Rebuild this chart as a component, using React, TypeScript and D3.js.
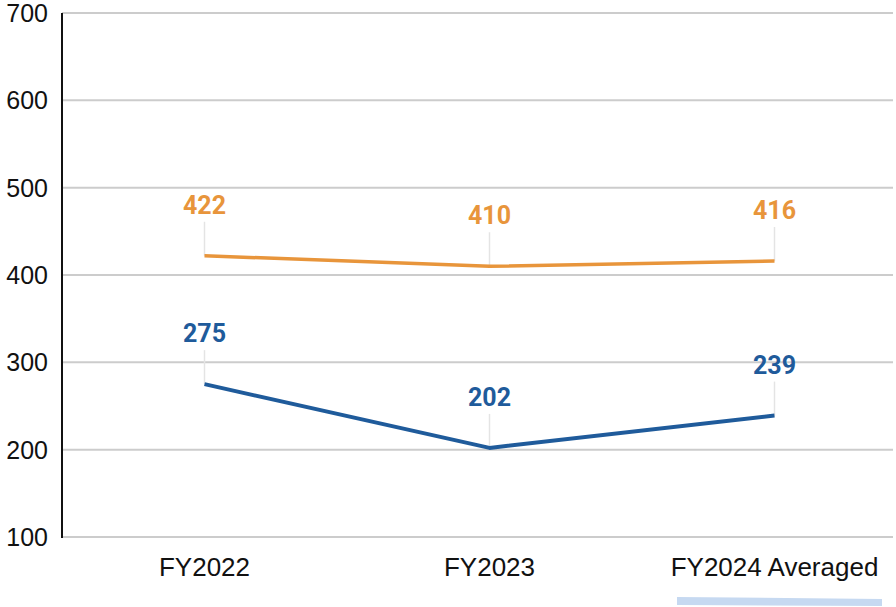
import React from "react";
import * as d3 from "d3";

const categories = ["FY2022", "FY2023", "FY2024 Averaged"];
const seriesOrange = [422, 410, 416];
const seriesBlue = [275, 202, 239];
const yTicks = [100, 200, 300, 400, 500, 600, 700];

const W = 896;
const H = 607;
const left = 62;
const top = 13;
const bottom = 537;
const gridRight = 893;

export default function App() {
  const x = d3.scalePoint<string>().domain(categories).range([left, left + 3 * 285]).padding(0.5);
  const y = d3.scaleLinear().domain([100, 700]).range([bottom, top]);

  const line = d3
    .line<number>()
    .x((_, i) => x(categories[i]) as number)
    .y((d) => y(d));

  const series = [
    { values: seriesOrange, color: "#E8953B", width: 3.5 },
    { values: seriesBlue, color: "#1F5B9B", width: 4 },
  ];

  return (
    <svg
      width={W}
      height={H}
      style={{ position: "absolute", left: 0, top: 0, background: "#fff" }}
    >
      {yTicks.map((t) => (
        <g key={t}>
          <line x1={left} x2={gridRight} y1={y(t)} y2={y(t)} stroke="#cccccc" strokeWidth={2} />
          <text
            x={48}
            y={y(t)}
            textAnchor="end"
            dominantBaseline="central"
            fontFamily="Liberation Sans, Arial, sans-serif"
            fontSize={25}
            fill="#111"
          >
            {t}
          </text>
        </g>
      ))}
      <line x1={left} x2={left} y1={top} y2={bottom + 1} stroke="#111" strokeWidth={2} />
      {categories.map((c) => (
        <text
          key={c}
          x={x(c)}
          y={567}
          textAnchor="middle"
          dominantBaseline="central"
          fontFamily="Liberation Sans, Arial, sans-serif"
          fontSize={26}
          fill="#111"
        >
          {c}
        </text>
      ))}
      {series.map((s, si) => (
        <g key={si}>
          {s.values.map((v, i) => (
            <line
              key={i}
              x1={x(categories[i])}
              x2={x(categories[i])}
              y1={y(v) - 34}
              y2={y(v)}
              stroke="#e4e4e4"
              strokeWidth={1.5}
            />
          ))}
          <path d={line(s.values) || ""} fill="none" stroke={s.color} strokeWidth={s.width} strokeLinejoin="round" />
          {s.values.map((v, i) => (
            <text
              key={i}
              x={x(categories[i])}
              y={y(v) - 42}
              textAnchor="middle"
              fontFamily="Roboto, sans-serif"
              fontWeight="bold"
              fontSize={25}
              fill={s.color}
            >
              {v}
            </text>
          ))}
        </g>
      ))}
      <polygon points="677,597 882,599 882,606 677,605" fill="#c6d9f1" />
    </svg>
  );
}
